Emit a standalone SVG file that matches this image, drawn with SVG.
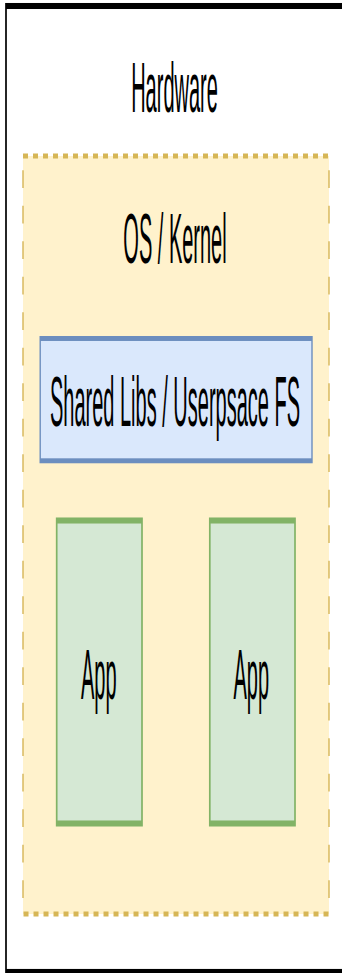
<svg xmlns="http://www.w3.org/2000/svg" width="342" height="973" viewBox="0 0 342 973">
<style>
.lbl{font-family:"Liberation Sans",Arial,sans-serif;font-size:20px;fill:#000;text-anchor:middle}
.hw{fill:#fff;stroke:#000;stroke-width:1.7}
.os{fill:#fff2cc;stroke:#d6b656;stroke-width:1.4;stroke-dasharray:5 5}
.lib{fill:#dae8fc;stroke:#6c8ebf;stroke-width:1.4}
.app{fill:#d5e8d4;stroke:#82b366;stroke-width:1.7}
</style>
<rect width="342" height="973" fill="#fff"/>
<g transform="scale(1 3.55)">
  <g id="hardware">
    <rect class="hw" x="6" y="1.69" width="400" height="272.1"/>
    <text class="lbl" x="174.5" y="31.55">Hardware</text>
  </g>
  <g id="os-kernel">
    <rect class="os" x="23" y="43.94" width="306" height="213.52"/>
    <text class="lbl" x="175" y="74.08">OS / Kernel</text>
  </g>
  <g id="shared-libs">
    <rect class="lib" x="40.2" y="95.35" width="271.8" height="34.45"/>
    <text class="lbl" x="175" y="120">Shared Libs / Userpsace FS</text>
  </g>
  <g id="app-1">
    <rect class="app" x="56.7" y="146.62" width="85.3" height="85.35"/>
    <text class="lbl" x="98.8" y="196.9">App</text>
  </g>
  <g id="app-2">
    <rect class="app" x="209.8" y="146.62" width="85.2" height="85.35"/>
    <text class="lbl" x="251.3" y="196.9">App</text>
  </g>
  <g id="connectors"/>
</g>
</svg>
